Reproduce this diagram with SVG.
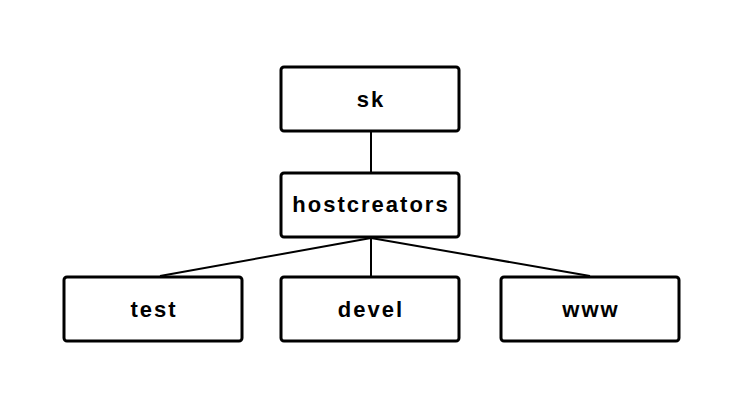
<svg xmlns="http://www.w3.org/2000/svg" width="744" height="410" viewBox="0 0 744 410">
<style>
.box{fill:#fff;stroke:#000;stroke-width:3}
.lbl{font-family:"Liberation Sans",Arial,sans-serif;font-weight:bold;font-size:22px;letter-spacing:2px;text-anchor:middle;fill:#000}
.edge{stroke:#000;stroke-width:2;fill:none}
</style>
<rect width="744" height="410" fill="#fff"/>
<g id="connectors">
<line class="edge" x1="371" y1="132" x2="371" y2="172"/>
<line class="edge" x1="371" y1="238" x2="160" y2="276"/>
<line class="edge" x1="371" y1="238" x2="371" y2="276"/>
<line class="edge" x1="371" y1="238" x2="590" y2="276"/>
</g>
<g id="sk"><rect class="box" x="281" y="67" width="178" height="64" rx="3"/><text class="lbl" x="371" y="107">sk</text></g>
<g id="hostcreators"><rect class="box" x="281" y="173" width="178" height="64" rx="3"/><text class="lbl" x="371" y="212">hostcreators</text></g>
<g id="test"><rect class="box" x="64" y="277" width="178" height="64" rx="3"/><text class="lbl" x="154" y="317">test</text></g>
<g id="devel"><rect class="box" x="281" y="277" width="178" height="64" rx="3"/><text class="lbl" x="371" y="317">devel</text></g>
<g id="www"><rect class="box" x="501" y="277" width="178" height="64" rx="3"/><text class="lbl" x="591" y="317">www</text></g>
</svg>
